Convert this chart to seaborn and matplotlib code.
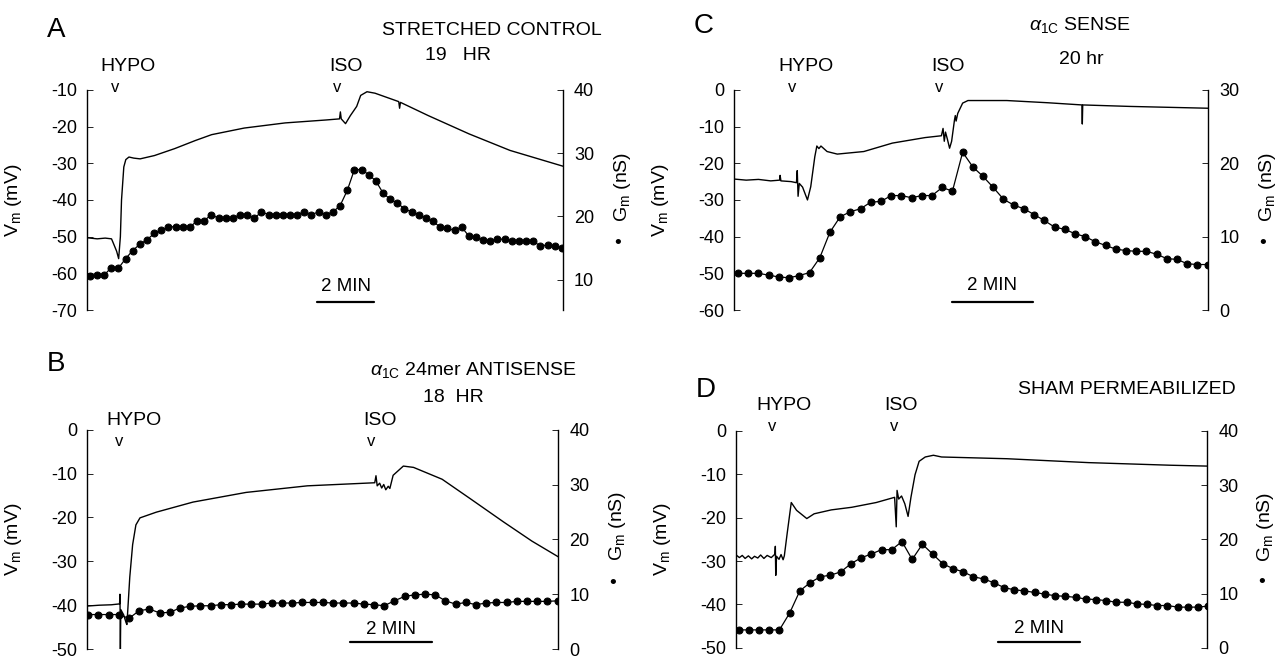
import numpy as np
import matplotlib
matplotlib.use("Agg")
import matplotlib.pyplot as plt
from matplotlib.transforms import blended_transform_factory
import seaborn as sns

# ---- data (time in min, Vm in mV, Gm in nS) ----
# A: stretched control
vm_t_a = [0.0, 0.36, 0.64, 0.86, 0.93, 1.04, 1.11, 1.17, 1.21, 1.29, 1.36, 1.47, 1.64, 1.86,
          2.36, 3.07, 3.79, 4.36, 5.50, 6.93, 8.36, 8.83, 8.86, 8.89, 9.04, 9.21, 9.43, 9.57,
          9.79, 10.07, 10.90, 10.93, 10.96, 11.93, 13.36, 14.79, 16.64]
vm_a = [-50.3, -50.6, -50.4, -50.6, -51.9, -54.0, -56.0, -50.0, -40.0, -31.0, -29.0, -28.3,
        -28.6, -28.8, -27.9, -26.0, -23.8, -22.2, -20.4, -19.0, -18.2, -17.9, -16.0, -17.9,
        -19.2, -17.0, -14.5, -11.5, -10.5, -10.9, -13.2, -15.0, -13.4, -17.0, -22.0, -26.5, -30.8]
gm_a = [10.6, 10.7, 10.7, 11.9, 11.8, 13.3, 14.6, 15.6, 16.3, 17.3, 17.8, 18.3, 18.4, 18.4,
        18.3, 19.3, 19.3, 20.3, 19.7, 19.7, 19.7, 20.3, 20.3, 19.7, 20.7, 20.3, 20.3, 20.3,
        20.3, 20.3, 20.7, 20.3, 20.7, 20.3, 20.7, 21.7, 24.1, 27.4, 27.4, 26.6, 25.6, 23.7,
        22.7, 22.1, 21.2, 20.7, 20.3, 19.7, 19.2, 18.3, 18.1, 17.8, 18.3, 16.9, 16.7, 16.3,
        16.1, 16.4, 16.4, 16.1, 16.1, 16.1, 16.1, 15.3, 15.5, 15.3, 15.0]

# C: alpha1C sense
vm_t_c = [0.0, 0.3, 0.6, 0.9, 1.12, 1.13, 1.15, 1.4, 1.53, 1.55, 1.57, 1.60, 1.68, 1.80, 1.88,
          1.98, 2.03, 2.08, 2.13, 2.28, 2.53, 3.18, 3.88, 4.68, 5.08, 5.12, 5.15, 5.18, 5.23,
          5.28, 5.33, 5.40, 5.42, 5.44, 5.48, 5.60, 5.73, 6.68, 7.68, 8.52, 8.53, 8.54, 9.68, 11.61]
vm_c = [-24.3, -24.6, -24.4, -24.8, -24.6, -23.3, -24.8, -25.0, -25.3, -22.0, -29.0, -25.5,
        -26.5, -30.0, -26.4, -18.2, -15.3, -16.0, -15.3, -16.8, -17.5, -16.8, -14.5, -13.0,
        -12.5, -10.5, -14.0, -11.5, -13.6, -15.9, -14.0, -8.2, -7.0, -8.5, -6.4, -3.6, -2.9,
        -2.9, -3.5, -4.1, -9.3, -4.1, -4.5, -5.0]
gm_c = [5.0, 5.0, 5.0, 4.75, 4.5, 4.4, 4.7, 5.1, 7.1, 10.6, 12.7, 13.4, 13.8, 14.7, 14.8, 15.6,
        15.6, 15.3, 15.6, 15.6, 16.7, 16.2, 21.5, 19.5, 18.2, 16.7, 15.1, 14.3, 13.8, 13.0, 12.2,
        11.3, 11.0, 10.4, 10.0, 9.3, 8.8, 8.3, 8.1, 8.0, 8.0, 7.6, 7.0, 6.9, 6.3, 6.2, 6.2]

# B: alpha1C 24mer antisense
vm_t_b = [0.0, 0.3, 0.6, 0.80, 0.81, 0.82, 0.83, 0.90, 0.96, 0.98, 1.05, 1.12, 1.20, 1.30,
          1.70, 2.60, 3.90, 5.40, 7.05, 7.08, 7.11, 7.17, 7.22, 7.27, 7.32, 7.38, 7.42, 7.50,
          7.75, 8.00, 8.70, 9.40, 10.20, 10.90, 11.55]
vm_b = [-40.2, -40.0, -39.9, -39.7, -37.5, -50.0, -41.0, -42.2, -44.0, -44.4, -33.6, -26.2,
        -21.7, -20.1, -18.8, -16.5, -14.3, -12.8, -12.1, -10.5, -12.8, -12.2, -13.3, -12.5,
        -13.7, -12.9, -13.4, -10.4, -8.3, -8.6, -11.3, -15.8, -21.0, -25.4, -29.0]
gm_b = [6.3, 6.3, 6.3, 6.3, 5.6, 7.0, 7.3, 6.6, 6.7, 7.5, 7.8, 7.9, 7.9, 8.1, 8.1, 8.2, 8.2,
        8.2, 8.4, 8.4, 8.4, 8.5, 8.5, 8.5, 8.4, 8.4, 8.4, 8.2, 8.1, 7.9, 8.8, 9.6, 9.9, 10.0,
        9.9, 8.8, 8.2, 8.5, 8.1, 8.4, 8.5, 8.5, 8.7, 8.7, 8.7, 8.7, 8.8]

# D: sham permeabilized
vm_t_d = [0.0, 0.08, 0.15, 0.22, 0.30, 0.38, 0.45, 0.53, 0.60, 0.68, 0.76, 0.86, 0.95, 0.96,
          0.97, 0.99, 1.05, 1.10, 1.15, 1.18, 1.25, 1.35, 1.48, 1.73, 1.91, 2.33, 2.83, 3.43,
          3.88, 3.92, 3.94, 3.98, 4.05, 4.13, 4.21, 4.28, 4.38, 4.48, 4.63, 4.83, 5.03, 6.63,
          8.63, 10.63, 11.53]
vm_d = [-28.6, -29.2, -28.7, -29.4, -28.8, -29.5, -28.9, -29.3, -28.6, -29.4, -28.7, -29.2,
        -28.4, -26.6, -33.3, -28.9, -29.6, -28.5, -29.7, -28.8, -23.6, -16.5, -18.3, -20.2,
        -19.1, -18.2, -17.6, -16.5, -15.3, -22.1, -13.7, -15.7, -15.0, -16.8, -19.7, -15.3,
        -10.1, -7.0, -6.0, -5.6, -6.0, -6.4, -7.3, -7.9, -8.1]
gm_d = [3.3, 3.3, 3.3, 3.3, 3.3, 6.4, 10.5, 12.0, 13.1, 13.4, 14.0, 15.5, 16.6, 17.3, 18.1,
        18.1, 19.6, 16.3, 19.1, 17.3, 15.5, 14.6, 14.0, 13.1, 12.7, 12.0, 11.1, 10.7, 10.5,
        10.2, 9.9, 9.6, 9.5, 9.3, 9.0, 8.9, 8.7, 8.4, 8.4, 8.1, 8.0, 7.8, 7.8, 7.5, 7.5, 7.5, 7.7]

# Gm sampled every 15 s
gm_dt = 0.25

sns.set_style("white")
plt.rcParams["font.family"] = ["Liberation Sans", "DejaVu Sans"]
plt.rcParams["mathtext.fontset"] = "custom"
plt.rcParams["mathtext.rm"] = "Liberation Sans"
plt.rcParams["mathtext.it"] = "Liberation Sans:italic"
plt.rcParams["axes.unicode_minus"] = False
plt.rcParams["text.color"] = "black"
plt.rcParams["axes.labelcolor"] = "black"
plt.rcParams["ytick.color"] = "black"

fig = plt.figure(figsize=(12.78, 6.61), dpi=100)


def panel(rect, letter, letter_y, vm_t, vm, gm_t0, gm, t_end, vlim, glim, gticks,
          bar_t0, bar_y, bar_text_y, hypo, iso, marks_y):
    ax = fig.add_axes(rect)
    sns.lineplot(x=vm_t, y=vm, ax=ax, color="black", linewidth=1.0,
                 estimator=None, sort=False)
    ax.set_xlim(0, t_end)
    ax.set_ylim(*vlim)
    ax.set_yticks(np.arange(vlim[0], vlim[1] + 1, 10))
    ax.set_yticklabels([str(int(v)) for v in np.arange(vlim[0], vlim[1] + 1, 10)])
    ax.xaxis.set_visible(False)
    for s in ["top", "bottom", "right"]:
        ax.spines[s].set_visible(False)
    ax.spines["left"].set_linewidth(1.0)
    ax.spines["left"].set_color("black")
    ax.tick_params(axis="y", direction="in", length=4, width=0.6, pad=7,
                   labelsize=13, colors="black")
    ax.set_ylabel(r"V$_\mathrm{m}$ (mV)", fontsize=14)
    ax.yaxis.set_label_coords(-0.133, 0.5)

    ax2 = ax.twinx()
    gm_t = gm_t0 + gm_dt * np.arange(len(gm))
    sns.lineplot(x=gm_t, y=gm, ax=ax2, color="black", linewidth=0.9, marker="o",
                 markersize=5, markeredgecolor="black", markerfacecolor="black",
                 estimator=None, sort=False)
    ax2.set_xlim(0, t_end)
    ax2.set_ylim(*glim)
    ax2.set_yticks(gticks)
    for s in ["top", "bottom", "left"]:
        ax2.spines[s].set_visible(False)
    ax2.spines["right"].set_linewidth(1.0)
    ax2.spines["right"].set_color("black")
    ax2.tick_params(axis="y", direction="in", length=4, width=0.6, pad=8,
                    labelsize=13, colors="black")
    ax2.xaxis.set_visible(False)
    ax2.text(1.125, 0.56, r"G$_\mathrm{m}$ (nS)", transform=ax2.transAxes, rotation=90,
             ha="center", va="center", fontsize=14)
    ax2.text(1.115, 0.30, "•", transform=ax2.transAxes, ha="center", va="center",
             fontsize=14)

    ax.text(-0.085, letter_y, letter, transform=ax.transAxes, ha="left", va="center",
            fontsize=20)

    tr = blended_transform_factory(ax.transData, ax.transAxes)
    ax.plot([bar_t0, bar_t0 + 2], [bar_y, bar_y], color="black", lw=1.6,
            transform=tr, clip_on=False)
    ax.text(bar_t0 + 1, bar_text_y, "2 MIN", transform=tr, ha="center", va="center",
            fontsize=13.5)

    for name, (tv, dx) in (("HYPO", hypo), ("ISO", iso)):
        ax.text(tv, marks_y, "v", transform=tr, ha="center", va="center", fontsize=12)
        ax.text(tv + dx, marks_y + 0.095, name, transform=tr, ha="center",
                va="center", fontsize=14)
    return ax


ax_a = panel([0.068, 0.531, 0.3725, 0.333], "A", 1.27, vm_t_a, vm_a, 0.1, gm_a, 16.64,
             (-70, -10), (5.2, 40), [10, 20, 30, 40], 8.04, 0.038, 0.105,
             (1.0, 0.43), (8.74, 0.31), 1.01)
ax_a.text(0.85, 1.27, "STRETCHED CONTROL", transform=ax_a.transAxes, ha="center",
          va="center", fontsize=14)
ax_a.text(0.78, 1.155, "19   HR", transform=ax_a.transAxes, ha="center", va="center",
          fontsize=14)

ax_c = panel([0.5743, 0.531, 0.371, 0.333], "C", 1.29, vm_t_c, vm_c, 0.1, gm_c, 11.61,
             (-60, 0), (0, 30), [0, 10, 20, 30], 5.33, 0.038, 0.11,
             (1.43, 0.33), (5.03, 0.22), 1.012)
ax_c.text(0.73, 1.295, r"$\alpha_\mathrm{1C}$ SENSE", transform=ax_c.transAxes,
          ha="center", va="center", fontsize=14)
ax_c.text(0.732, 1.136, "20 hr", transform=ax_c.transAxes, ha="center", va="center",
          fontsize=14)

ax_b = panel([0.068, 0.018, 0.369, 0.332], "B", 1.30, vm_t_b, vm_b, 0.03, gm_b, 11.55,
             (-50, 0), (0, 40), [0, 10, 20, 30, 40], 6.45, 0.033, 0.09,
             (0.80, 0.35), (6.95, 0.23), 0.945)
ax_b.text(0.82, 1.27, r"$\alpha_\mathrm{1C}$ 24mer ANTISENSE", transform=ax_b.transAxes,
          ha="center", va="center", fontsize=14)
ax_b.text(0.777, 1.146, "18  HR", transform=ax_b.transAxes, ha="center", va="center",
          fontsize=14)

ax_d = panel([0.576, 0.02, 0.3685, 0.328], "D", 1.19, vm_t_d, vm_d, 0.06, gm_d, 11.53,
             (-50, 0), (0, 40), [0, 10, 20, 30, 40], 6.41, 0.027, 0.088,
             (0.88, 0.30), (3.86, 0.17), 1.022)
ax_d.text(0.83, 1.19, "SHAM PERMEABILIZED", transform=ax_d.transAxes, ha="center",
          va="center", fontsize=14)

fig.savefig("out.png", dpi=100, facecolor="white")
